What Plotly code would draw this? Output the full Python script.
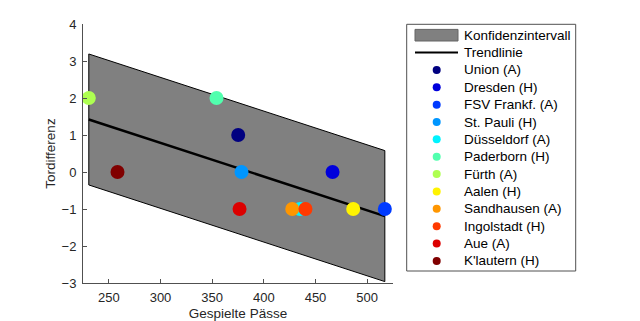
import numpy as np
import plotly.graph_objects as go

teams = ["Union (A)", "Dresden (H)", "FSV Frankf. (A)", "St. Pauli (H)", "Düsseldorf (A)",
         "Paderborn (H)", "Fürth (A)", "Aalen (H)", "Sandhausen (A)", "Ingolstadt (H)",
         "Aue (A)", "K'lautern (H)"]
passes = [375.2, 466.5, 517.1, 378.4, 435.0, 354.2, 230.6, 486.5, 427.5, 440.3, 376.5, 258.4]
goal_diff = [1, 0, -1, 0, -1, 2, 2, -1, -1, -1, -1, 0]
ci_half = 1.77  # half-width of confidence band
x_ticks = [250, 300, 350, 400, 450, 500]
y_ticks = [-3, -2, -1, 0, 1, 2, 3, 4]
band_label = "Konfidenzintervall"
trend_label = "Trendlinie"

colors = ["rgb(0,0,128)", "rgb(0,0,220)", "rgb(0,58,255)", "rgb(0,150,255)", "rgb(0,243,255)",
          "rgb(81,255,174)", "rgb(174,255,81)", "rgb(255,243,0)", "rgb(255,150,0)",
          "rgb(255,58,0)", "rgb(220,0,0)", "rgb(128,0,0)"]

xs = np.array(passes)
ys = np.array(goal_diff, dtype=float)
slope, intercept = np.polyfit(xs, ys, 1)
tx = [float(xs.min()), float(xs.max())]
ty = [slope * v + intercept for v in tx]

W, H = 640, 321
ML, MR, MT, MB = 83, 247, 24, 38
PW, PH = W - ML - MR, H - MT - MB


def px(xpix):
    return (xpix - ML) / PW


def py(ypix):
    return (H - MB - ypix) / PH


font = "Liberation Sans, Arial, sans-serif"
txt_col = "#262626"
line_col = "rgb(80,80,80)"

fig = go.Figure()
fig.add_trace(go.Scatter(
    x=[tx[0], tx[1], tx[1], tx[0], tx[0]],
    y=[ty[0] + ci_half, ty[1] + ci_half, ty[1] - ci_half, ty[0] - ci_half, ty[0] + ci_half],
    fill="toself", fillcolor="rgb(128,128,128)", mode="lines",
    line=dict(color="black", width=1), name=band_label, showlegend=False))
fig.add_trace(go.Scatter(x=tx, y=ty, mode="lines", line=dict(color="black", width=2.5),
                         name=trend_label, showlegend=False))
for t, x, y, c in zip(teams, passes, goal_diff, colors):
    fig.add_trace(go.Scatter(x=[x], y=[y], mode="markers", name=t, showlegend=False,
                             marker=dict(color=c, size=14, line=dict(width=0))))

# ----- custom legend (MATLAB style) -----
shapes = []
annotations = []
box_l, box_r, box_t, box_b = 406.7, 575.7, 24.3, 271.0
shapes.append(dict(type="rect", xref="paper", yref="paper", x0=px(box_l), x1=px(box_r),
                   y0=py(box_b), y1=py(box_t), line=dict(color=line_col, width=1),
                   fillcolor="white", layer="above"))
row0, row_step = 35.2, 17.36
sym_l, sym_r, sym_c = 415, 458, 436.7
text_x = 461.5
labels = [band_label, trend_label] + teams
for i, lab in enumerate(labels):
    yc = row0 + row_step * i
    annotations.append(dict(text=lab, xref="paper", yref="paper", x=px(text_x), y=py(yc),
                            xanchor="left", yanchor="middle", showarrow=False,
                            font=dict(family=font, size=13.5, color="black")))
    if i == 0:
        shapes.append(dict(type="rect", xref="paper", yref="paper", x0=px(sym_l), x1=px(sym_r),
                           y0=py(yc + 5.8), y1=py(yc - 5.8), fillcolor="rgb(128,128,128)",
                           line=dict(color="rgb(100,100,100)", width=1), layer="above"))
    elif i == 1:
        shapes.append(dict(type="line", xref="paper", yref="paper", x0=px(sym_l), x1=px(sym_r),
                           y0=py(yc), y1=py(yc), line=dict(color="black", width=2),
                           layer="above"))
    else:
        shapes.append(dict(type="circle", xref="paper", yref="paper", xsizemode="pixel",
                           ysizemode="pixel", xanchor=px(sym_c), yanchor=py(yc),
                           x0=-4, x1=4, y0=-4, y1=4, fillcolor=colors[i - 2],
                           line=dict(width=0), layer="above"))

axis_common = dict(showline=True, linecolor=line_col, linewidth=1, ticks="inside",
                   ticklen=4, tickcolor=line_col, showgrid=False, zeroline=False,
                   mirror=False, automargin=False, tickfont=dict(size=13, color=txt_col))
fig.update_xaxes(range=[225, 525], tickvals=x_ticks, ticklabelstandoff=2,
                 title=dict(text="Gespielte Pässe", font=dict(size=13.5, color=txt_col), standoff=10),
                 **axis_common)
fig.update_yaxes(range=[-3, 4], tickvals=y_ticks, ticklabelstandoff=3,
                 title=dict(text="Tordifferenz", font=dict(size=13.5, color=txt_col), standoff=2),
                 **axis_common)
fig.update_layout(
    width=W, height=H, margin=dict(l=ML, r=MR, t=MT, b=MB),
    plot_bgcolor="white", paper_bgcolor="white",
    font=dict(family=font, size=13, color=txt_col),
    showlegend=False, shapes=shapes, annotations=annotations,
)
fig.write_html("out.html")
